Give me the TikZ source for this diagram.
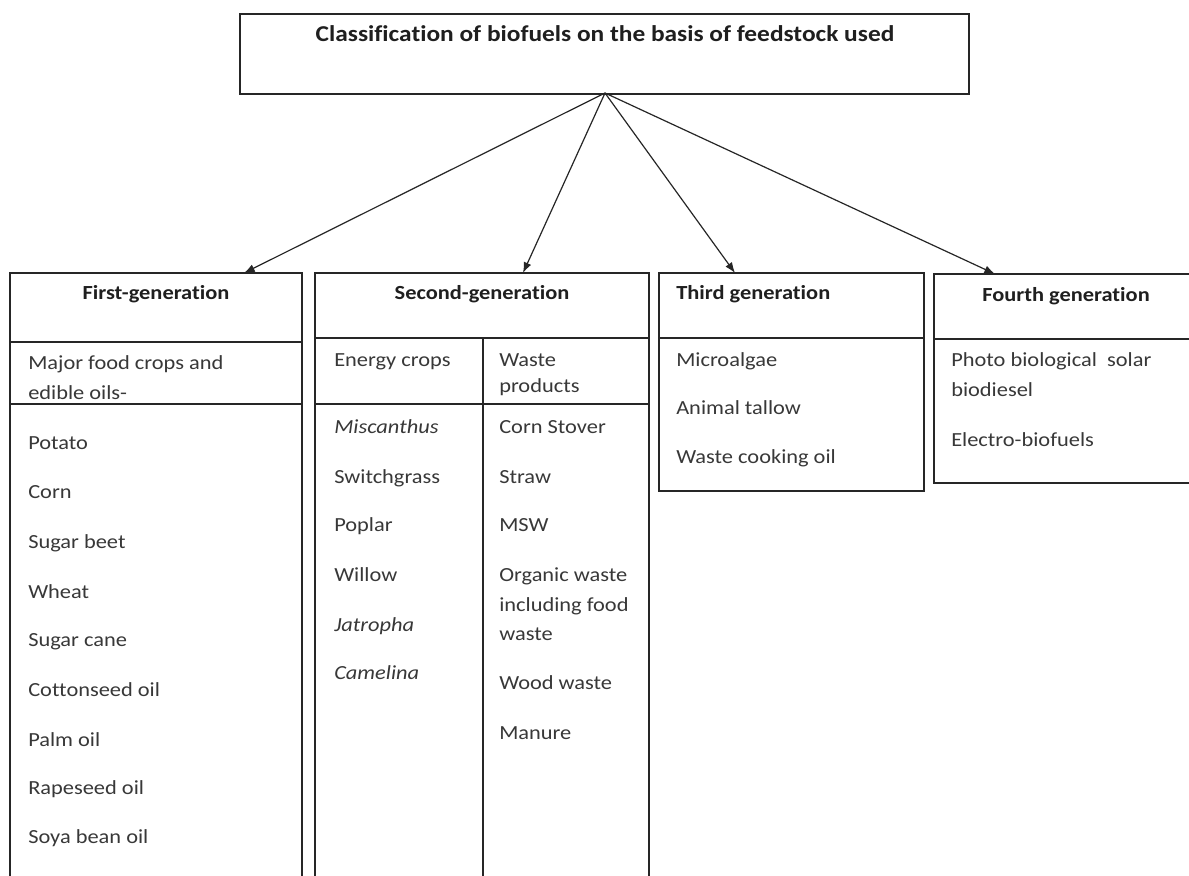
\documentclass[tikz,border=0pt]{standalone}
\usepackage{fontspec}
\setmainfont{Carlito}[FakeStretch=1.12,Ligatures=CommonOff]
\usetikzlibrary{arrows.meta}
\begin{document}
\begin{tikzpicture}[x=0.75pt,y=-0.75pt,
  frame/.style={draw=black!85,line width=1.15pt},
  lbl/.style={anchor=base west,inner sep=0pt,font=\fontsize{15}{18}\selectfont,text=black!78},
  head/.style={anchor=base,inner sep=0pt,font=\fontsize{15}{18}\selectfont\bfseries,text=black!88},
  arr/.style={draw=black!85,line width=0.9pt,-{Latex[length=8pt,width=6pt]}}]
\useasboundingbox[fill=white] (0,0) rectangle (1189,875);
% top box
\node[frame,anchor=north west,minimum width=729*0.75pt,minimum height=80*0.75pt,inner sep=0pt] (top) at (239,13) {};
\node[head,anchor=base,font=\fontsize{17}{20}\selectfont\bfseries] (title) at (605,41) {Classification of biofuels on the basis of feedstock used};
\coordinate (src) at (605,93);
\coordinate (t1) at (244,273);
\coordinate (t2) at (523,273);
\coordinate (t3) at (735,273);
\coordinate (t4) at (995,274);
\draw[arr] (src) -- (t1);
\draw[arr] (src) -- (t2);
\draw[arr] (src) -- (t3);
\draw[arr] (src) -- (t4);
% first generation
\draw[frame] (10,876) -- (10,273) -- (302,273) -- (302,876);
\draw[frame] (10,342) -- (302,342);
\draw[frame] (10,404) -- (302,404);
% second generation
\draw[frame] (315,876) -- (315,273) -- (649,273) -- (649,876);
\draw[frame] (315,338) -- (649,338);
\draw[frame] (315,404) -- (649,404);
\draw[frame] (483,338) -- (483,876);
% third generation
\draw[frame] (659,273) rectangle (924,491);
\draw[frame] (659,338) -- (924,338);
% fourth generation
\draw[frame] (1190,274) -- (934,274) -- (934,483) -- (1190,483);
\draw[frame] (934,339) -- (1190,339);
% headings
\node[head] (h1) at (156,299) {First-generation};
\node[head] (h2) at (482,299) {Second-generation};
\node[head,anchor=base west] (h3) at (676,299) {Third generation};
\node[head] (h4) at (1066,301) {Fourth generation};
% first column
\node[lbl] (f0a) at (28,369) {Major food crops and};
\node[lbl] (f0b) at (28,399) {edible oils-};
\node[lbl] (f1) at (28,449) {Potato};
\node[lbl] (f2) at (28,498) {Corn};
\node[lbl] (f3) at (28,548) {Sugar beet};
\node[lbl] (f4) at (28,598) {Wheat};
\node[lbl] (f5) at (28,646) {Sugar cane};
\node[lbl] (f6) at (28,696) {Cottonseed oil};
\node[lbl] (f7) at (28,746) {Palm oil};
\node[lbl] (f8) at (28,794) {Rapeseed oil};
\node[lbl] (f9) at (28,843) {Soya bean oil};
% second: energy crops
\node[lbl] (e0) at (334,366) {Energy crops};
\node[lbl] (e1) at (334,433) {\itshape Miscanthus};
\node[lbl] (e2) at (334,483) {Switchgrass};
\node[lbl] (e3) at (334,531) {Poplar};
\node[lbl] (e4) at (334,581) {Willow};
\node[lbl] (e5) at (334,631) {\itshape Jatropha};
\node[lbl] (e6) at (334,679) {\itshape Camelina};
% second: waste products
\node[lbl] (w0a) at (499,366) {Waste};
\node[lbl] (w0b) at (499,392) {products};
\node[lbl] (w1) at (499,433) {Corn Stover};
\node[lbl] (w2) at (499,483) {Straw};
\node[lbl] (w3) at (499,531) {MSW};
\node[lbl] (w4a) at (499,581) {Organic waste};
\node[lbl] (w4b) at (499,611) {including food};
\node[lbl] (w4c) at (499,640) {waste};
\node[lbl] (w5) at (499,689) {Wood waste};
\node[lbl] (w6) at (499,739) {Manure};
% third
\node[lbl] (r1) at (676,366) {Microalgae};
\node[lbl] (r2) at (676,414) {Animal tallow};
\node[lbl] (r3) at (676,463) {Waste cooking oil};
% fourth
\node[lbl] (q1a) at (951,366) {Photo biological\ \ solar};
\node[lbl] (q1b) at (951,396) {biodiesel};
\node[lbl] (q2) at (951,446) {Electro-biofuels};
\end{tikzpicture}
\end{document}
